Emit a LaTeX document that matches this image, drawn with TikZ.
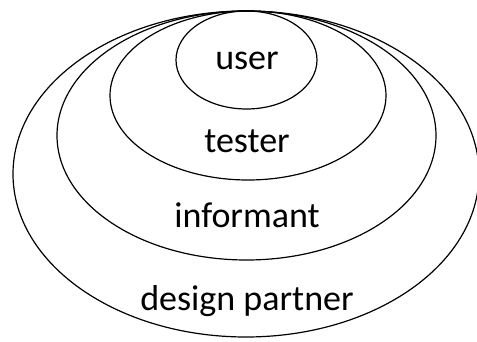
\documentclass[tikz,border=0pt]{standalone}
\usepackage{fontspec}
\setmainfont{Carlito}
\usetikzlibrary{shapes.geometric}

\begin{document}
\begin{tikzpicture}[
  x=1pt,y=-1pt,
  ring/.style={ellipse,draw,line width=1.2pt,inner sep=0pt},
  lbl/.style={anchor=base,inner sep=0pt,font=\fontsize{36}{43}\selectfont}
]
  \useasboundingbox (0,0) rectangle (477,342);
  % nested roles, all touching at the top
  \node[ring,minimum width=466pt,minimum height=326pt] (partner) at (246,174) {};
  \node[ring,minimum width=379pt,minimum height=249pt] (inform)  at (246.5,135.5) {};
  \node[ring,minimum width=276pt,minimum height=169pt] (test)    at (248,95.5) {};
  \node[ring,minimum width=141pt,minimum height=98pt]  (usr)     at (246.5,60) {};
  \node[lbl] (usrlbl)     at (247,70)  {user};
  \node[lbl] (testlbl)    at (247,153) {tester};
  \node[lbl] (informlbl)  at (247,227) {informant};
  \node[lbl] (partnerlbl) at (247,310) {design partner};
\end{tikzpicture}
\end{document}
